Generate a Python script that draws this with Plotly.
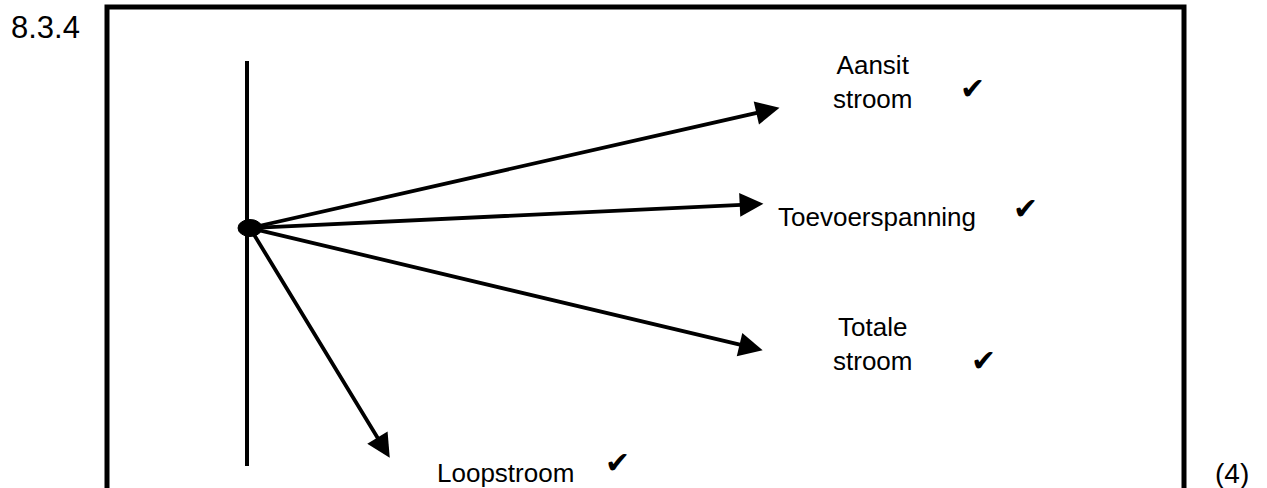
import math
import plotly.graph_objects as go

# ---- data (phasor diagram) ----
phasor_names = ["Aansit<br>stroom", "Toevoerspanning", "Totale<br>stroom", "Loopstroom"]
phasor_magnitude = [543, 514, 527, 269]      # relative lengths
phasor_angle_deg = [12.8, 2.7, -13.4, -58.7]  # angle w.r.t. reference (horizontal)
mark_symbol = "\u2714"
question_label = "8.3.4"
marks_label = "(4)"

# ---- layout helpers (positions, not data) ----
label_pos = [(622, 146), (627, 11), (622, -116), (255, -245)]
check_pos = [(722, 140), (775, 20), (733, -132), (367, -234)]

FONT = "Liberation Sans, Arial, sans-serif"

fig = go.Figure()
fig.add_trace(go.Scatter(x=[0], y=[0], mode="markers", marker=dict(size=1, color="rgba(0,0,0,0)"),
                         hoverinfo="skip", showlegend=False))

# outer box (bottom runs off the picture)
fig.add_shape(type="rect", x0=-143, x1=934, y0=-300, y1=221,
              line=dict(color="black", width=5), layer="above")
# reference vertical line
fig.add_shape(type="line", x0=-3, x1=-3, y0=-238, y1=167,
              line=dict(color="black", width=4))

annotations = []
for name, mag, ang, lp, cp in zip(phasor_names, phasor_magnitude, phasor_angle_deg, label_pos, check_pos):
    r = math.radians(ang)
    tx, ty = mag * math.cos(r), mag * math.sin(r)
    annotations.append(dict(x=tx, y=ty, ax=0, ay=0, xref="x", yref="y", axref="x", ayref="y",
                            showarrow=True, arrowhead=2, arrowsize=1.25, arrowwidth=3.8,
                            arrowcolor="black", standoff=0, text=""))
    annotations.append(dict(x=lp[0], y=lp[1], xref="x", yref="y", text=name, showarrow=False,
                            font=dict(family=FONT, size=26, color="black"), align="center"))
    annotations.append(dict(x=cp[0], y=cp[1], xref="x", yref="y", text=mark_symbol, showarrow=False,
                            font=dict(family="DejaVu Sans", size=30, color="black")))

# origin dot
fig.add_shape(type="circle", x0=-12, x1=12, y0=-8.5, y1=8.5,
              fillcolor="black", line=dict(color="black", width=1), layer="above")

annotations.append(dict(x=-205, y=201, xref="x", yref="y", text=question_label, showarrow=False,
                        font=dict(family=FONT, size=31, color="black")))
annotations.append(dict(x=982, y=-245, xref="x", yref="y", text=marks_label, showarrow=False,
                        font=dict(family=FONT, size=28, color="black")))

fig.update_layout(
    width=1267, height=488,
    margin=dict(l=0, r=0, t=0, b=0),
    paper_bgcolor="white", plot_bgcolor="white",
    xaxis=dict(range=[-250, 1017], visible=False, fixedrange=True),
    yaxis=dict(range=[-260, 228], visible=False, fixedrange=True),
    annotations=annotations,
    showlegend=False,
)

fig.write_html("out.html", config={"displayModeBar": False},
               post_script="document.body.style.margin='0';document.body.style.overflow='hidden';")
